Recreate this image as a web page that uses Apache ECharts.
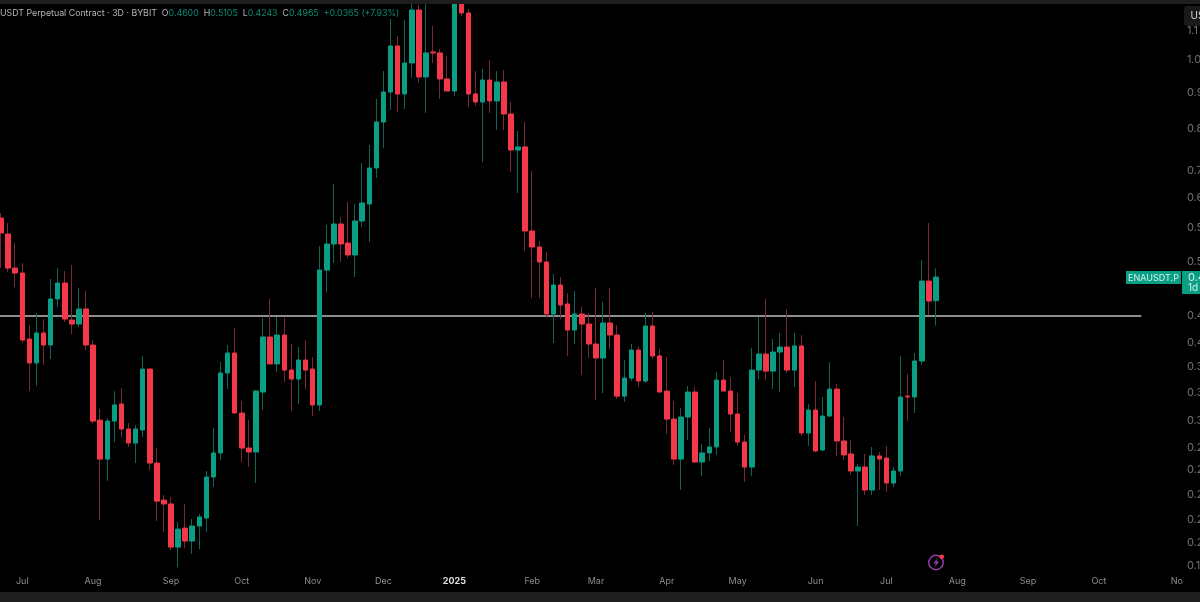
<!DOCTYPE html>
<html>
<head>
<meta charset="utf-8">
<style>
html,body{margin:0;padding:0;background:#000;}
#main{width:1200px;height:602px;}
</style>
<script src="https://cdn.jsdelivr.net/npm/echarts@6/dist/echarts.min.js"></script>
</head>
<body>
<div id="main"></div>
<script>
var opens = [
.6006,.5704,.5111,.5030,.4065,.3763,.4145,.3987,.4625,.4870,
.4322,.4267,.4479,.3987,.3130,.2760,.3120,.3297,.3041,.2907,
.3031,.3690,.2725,.2418,.2388,.2078,.2209,.2119,.2224,.2282,
.2605,.2815,.3643,.3886,.3202,.2860,.2824,.3426,.4092,.3751,
.4118,.3678,.3573,.3799,.3690,.3286,.5078,.5523,.5891,.5541,
.5331,.5948,.6284,.7058,.8187,.9018,1.0461,.8961,.9903,1.1749,
.9466,1.0260,1.0228,.9405,.9047,1.2330,1.1637,.8961,.8732,.9374,
.8760,.9314,.8401,.7479,.7553,.5760,.5470,.5212,.4407,.4839,
.4552,.4185,.4407,.4267,.4000,.3824,.4281,.4118,.3382,.3584,
.3923,.3550,.4240,.3849,.3437,.3140,.2760,.3161,.3426,.2734,
.2815,.2870,.3561,.3437,.3192,.2916,.2690,.3678,.3873,.3666,
.3898,.3962,.3678,.3975,.3002,.3233,.2842,.3171,.3459,.2926,
.2806,.2656,.2690,.2498,.2788,.2769,.2555,.2656,.3382,.3372,
.3787,.4901,.4600
];
var highs = [
.6104,.5910,.5541,.5195,.4253,.4421,.4336,.4933,.5111,.5062,
.5162,.4792,.4746,.4052,.3244,.3151,.3437,.3471,.3100,.3080,
.3849,.3690,.2860,.2458,.2442,.2253,.2388,.2275,.2312,.2656,
.3051,.3775,.3987,.4212,.3328,.3130,.3448,.4350,.4625,.4365,
.4350,.4000,.3962,.4052,.3836,.5488,.5873,.6703,.6026,.6325,
.6284,.7173,.7601,.8817,.9650,1.1412,1.0804,1.1375,1.2330,1.1942,
1.2254,1.1158,1.0360,1.0129,1.2942,1.2614,1.1787,.9650,.9713,.9998,
.9650,.9681,.8732,.7952,.8187,.6990,.5576,.5383,.5014,.4965,
.4716,.4746,.4508,.4421,.4792,.4581,.4792,.4253,.3799,.4000,
.3975,.4421,.4436,.3936,.3836,.3328,.3254,.3493,.3482,.2898,
.3051,.3655,.3799,.3596,.3415,.2983,.3949,.4365,.4625,.4065,
.4145,.4479,.4145,.4118,.3297,.3550,.3372,.3775,.3516,.3161,
.2935,.2716,.2806,.2870,.2824,.2879,.2690,.3849,.3631,.3886,
.5245,.5910,.5105
];
var lows = [
.5111,.5046,.4808,.4013,.3437,.3493,.3739,.3811,.4508,.4295,
.4132,.4226,.3923,.3100,.2267,.2572,.2916,.2964,.2870,.2725,
.2964,.2664,.2260,.2181,.2058,.1948,.2071,.2032,.2065,.2181,
.2523,.2751,.3459,.3202,.2734,.2690,.2555,.3233,.3751,.3655,
.3538,.3223,.3297,.3459,.3171,.3223,.4731,.5195,.5212,.5279,
.4965,.5835,.5559,.6834,.7528,.8509,.8455,.8537,.9435,.9285,
.8428,.9903,.8817,.9047,.8903,1.1524,.8593,.8621,.7196,.8428,
.7977,.7977,.6967,.6511,.5400,.4640,.4640,.4350,.4013,.4336,
.3849,.4000,.3620,.3824,.3339,.3415,.3936,.3350,.3318,.3550,
.3482,.3527,.3811,.3426,.2993,.2708,.2498,.2935,.2725,.2613,
.2742,.2797,.3437,.3012,.2879,.2564,.2613,.3573,.3561,.3459,
.3426,.3643,.3482,.2973,.2879,.2824,.2833,.3161,.2788,.2751,
.2622,.2224,.2458,.2458,.2498,.2482,.2523,.2613,.3120,.3202,
.3739,.4393,.4243
];
var closes = [
.5723,.5111,.5030,.4052,.3763,.4145,.3987,.4625,.4870,.4336,
.4267,.4479,.3987,.3120,.2760,.3120,.3286,.3041,.2907,.3041,
.3690,.2725,.2410,.2388,.2078,.2202,.2119,.2224,.2290,.2605,
.2815,.3643,.3886,.3202,.2860,.2824,.3437,.4092,.3751,.4118,
.3678,.3573,.3799,.3678,.3286,.5078,.5523,.5891,.5523,.5331,
.5948,.6304,.7058,.8187,.9018,1.0461,.8961,.9903,1.1749,.9466,
1.0228,1.0228,.9405,.9047,1.2330,1.1637,.8961,.8732,.9374,.8760,
.9314,.8401,.7479,.7553,.5760,.5470,.5212,.4407,.4839,.4537,
.4185,.4407,.4267,.4000,.3824,.4281,.4118,.3382,.3584,.3923,
.3550,.4240,.3849,.3426,.3140,.2760,.3161,.3426,.2734,.2815,
.2870,.3561,.3437,.3192,.2916,.2690,.3678,.3873,.3666,.3898,
.3962,.3678,.3975,.3002,.3233,.2833,.3171,.3459,.2926,.2797,
.2656,.2690,.2498,.2788,.2760,.2555,.2656,.3372,.3372,.3787,
.4901,.4595,.4965
];

// month labels on the time scale, by slot
var monthSlots = [4, 14, 25, 35, 45, 55, 65, 76, 85, 95, 105, 116, 126, 136, 146, 156, 167];
var monthNames = ['Jul', 'Aug', 'Sep', 'Oct', 'Nov', 'Dec', '2025', 'Feb', 'Mar', 'Apr', 'May', 'Jun', 'Jul', 'Aug', 'Sep', 'Oct', 'No'];

var priceTicks = [1.1, 1.0, 0.9, 0.8, 0.7, 0.6405, 0.5815, 0.521, 0.439, 0.4014, 0.3715, 0.3416, 0.312, 0.286, 0.2664, 0.2458, 0.2267, 0.2106, 0.1955];
var priceTickLabels = ['1.1', '1.0', '0.9', '0.8', '0.7', '0.6', '0.5', '0.5', '0.4', '0.4', '0.3', '0.3', '0.3', '0.2', '0.2', '0.2', '0.2', '0.2', '0.1'];

var levelPrice = 0.4379;
var slotCount = 172;
var levelEndSlot = 162;
var tickLabelSlot = 168;

var upColor = '#0a9f85';
var downColor = '#f5374a';
var upWick = '#0e6455';
var downWick = '#7a2833';
var font = 'Inter, "Noto Sans", sans-serif';

var categories = [];
for (var i = 0; i < slotCount; i++) categories.push('');
for (var m = 0; m < monthSlots.length; m++) categories[monthSlots[m]] = monthNames[m];

// slot 0 stays empty, the first candle is half cut by the left edge
var wickData = ['-'];
var bodyData = ['-'];
for (var c = 0; c < opens.length; c++) {
    wickData.push([opens[c], closes[c], lows[c], highs[c]]);
    bodyData.push([opens[c], closes[c], Math.min(opens[c], closes[c]), Math.max(opens[c], closes[c])]);
}

var tickData = [];
for (var t = 0; t < priceTicks.length; t++) {
    tickData.push({ value: [tickLabelSlot, priceTicks[t]], tickText: priceTickLabels[t] });
}

var last = opens.length - 1;
var change = closes[last] - opens[last];
var headerText = '{w|USDT Perpetual Contract · 3D · BYBIT}  ' +
    '{w|O}{g|' + opens[last].toFixed(4) + '}  {w|H}{g|' + highs[last].toFixed(4) + '}  ' +
    '{w|L}{g|' + lows[last].toFixed(4) + '}  {w|C}{g|' + closes[last].toFixed(4) + '}  ' +
    '{g|+' + change.toFixed(4) + ' (+7.93%)}';

var myChart = echarts.init(document.getElementById('main'));
myChart.setOption({
    backgroundColor: '#000',
    animation: false,
    title: {
        left: 0,
        top: 9,
        padding: 0,
        text: headerText,
        textStyle: {
            fontFamily: font,
            fontSize: 8.8,
            fontWeight: 'normal',
            rich: {
                w: { color: '#b4b4b4', fontFamily: font, fontSize: 8.8 },
                g: { color: '#0c8a74', fontFamily: font, fontSize: 8.8 }
            }
        }
    },
    grid: { left: -9.62, top: 4, width: 1218.3, height: 571, containLabel: false, outerBoundsMode: 'none' },
    xAxis: {
        type: 'category',
        data: categories,
        boundaryGap: true,
        axisLine: { show: false },
        axisTick: { show: false },
        splitLine: { show: false },
        axisLabel: {
            interval: 0,
            margin: 2,
            color: '#8c8c8c',
            fontFamily: font,
            fontSize: 9,
            hideOverlap: false,
            formatter: function (value) {
                return value === '2025' ? '{y|2025}' : value;
            },
            rich: { y: { color: '#e0e0e0', fontWeight: 'bold', fontFamily: font, fontSize: 9 } }
        }
    },
    yAxis: {
        type: 'log',
        logBase: 10,
        min: 0.1899,
        max: 1.1978,
        axisLine: { show: false },
        axisTick: { show: false },
        splitLine: { show: false },
        axisLabel: { show: false }
    },
    series: [
        {
            name: 'level',
            type: 'line',
            z: 1,
            symbol: 'none',
            silent: true,
            lineStyle: { color: '#bdbdbd', width: 1.5 },
            data: [[0, levelPrice], [levelEndSlot, levelPrice]]
        },
        {
            name: 'wicks',
            type: 'candlestick',
            z: 2,
            barWidth: 1,
            itemStyle: { color: upWick, color0: downWick, borderColor: upWick, borderColor0: downWick, borderWidth: 1 },
            data: wickData
        },
        {
            name: 'bodies',
            type: 'candlestick',
            z: 3,
            barWidth: 5,
            itemStyle: { color: upColor, color0: downColor, borderColor: upColor, borderColor0: downColor, borderWidth: 1 },
            data: bodyData
        },
        {
            name: 'priceTicks',
            type: 'scatter',
            z: 4,
            symbolSize: 0,
            silent: true,
            label: {
                show: true,
                position: 'right',
                distance: 3,
                color: '#8c8c8c',
                fontFamily: font,
                fontSize: 11,
                formatter: function (p) { return p.data.tickText; }
            },
            data: tickData
        }
    ],
    graphic: [
        { type: 'rect', z: 50, shape: { x: 0, y: 0, width: 1200, height: 4 }, style: { fill: '#1e1e1e' } },
        { type: 'rect', z: 50, shape: { x: 0, y: 592, width: 1200, height: 10 }, style: { fill: '#1e1e1e' } },
        { type: 'rect', z: 50, shape: { x: 1184, y: 6, width: 24, height: 20, r: 3 }, style: { fill: '#191919' } },
        { type: 'text', z: 51, x: 1190.5, y: 16, style: { text: 'US', fill: '#d8d8d8', font: '10px ' + font, textVerticalAlign: 'middle' } },
        { type: 'rect', z: 50, shape: { x: 1126, y: 271, width: 55, height: 13 }, style: { fill: upColor } },
        { type: 'text', z: 51, x: 1153.5, y: 278, style: { text: 'ENAUSDT.P', fill: '#d4efe9', font: '9px ' + font, textAlign: 'center', textVerticalAlign: 'middle' } },
        { type: 'rect', z: 50, shape: { x: 1182, y: 271, width: 18, height: 23 }, style: { fill: upColor } },
        { type: 'text', z: 51, x: 1188, y: 278, style: { text: '0.4', fill: '#d4efe9', font: '11px ' + font, textVerticalAlign: 'middle' } },
        { type: 'text', z: 51, x: 1188, y: 288, style: { text: '1d', fill: '#d4efe9', font: '10px ' + font, textVerticalAlign: 'middle' } },
        // lightning badge under the last candles
        { type: 'circle', z: 50, shape: { cx: 936, cy: 562.5, r: 7.2 }, style: { fill: 'none', stroke: '#8f3fa6', lineWidth: 1.5 } },
        { type: 'polygon', z: 51, shape: { points: [[938, 557.5], [933.5, 563.5], [936, 563.5], [934.5, 567.5], [939, 561.5], [936.5, 561.5]] }, style: { fill: '#8f3fa6' } },
        { type: 'circle', z: 52, shape: { cx: 941.7, cy: 556.8, r: 2.4 }, style: { fill: '#f5374a' } }
    ]
});
window.onresize = myChart.resize;
</script>
</body>
</html>
